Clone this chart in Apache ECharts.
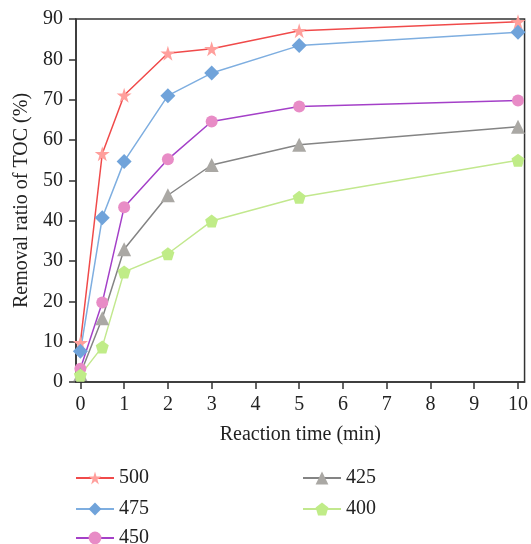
<!DOCTYPE html>
<html>
<head>
<meta charset="utf-8">
<script src="https://cdn.jsdelivr.net/npm/echarts@6/dist/echarts.min.js"></script>
<style>html,body{margin:0;padding:0;background:#fff}#mybox{width:531px;height:544px}</style>
</head>
<body>
<div id="mybox"></div>
<script>
// 数据
var times = [0, 0.5, 1, 2, 3, 5, 10];
var xTicks = [0, 1, 2, 3, 4, 5, 6, 7, 8, 9, 10];
var s500 = [9.7, 56.6, 71.1, 81.5, 82.6, 87.1, 89.3];
var s475 = [7.6, 40.7, 54.7, 71.0, 76.6, 83.4, 86.7];
var s450 = [3.3, 19.7, 43.3, 55.2, 64.6, 68.3, 69.8];
var s425 = [2.0, 15.8, 32.9, 46.3, 53.8, 58.8, 63.3];
var s400 = [1.7, 8.7, 27.3, 31.8, 39.9, 45.8, 55.0];
var legendNames = ['500', '475', '450', '425', '400'];

var font = '"Liberation Serif", "DejaVu Serif", serif';
var fs = 20;
var pentagon = 'path://M50,0 L100,38 L81,100 L19,100 L0,38 Z';
var star = 'path://M50,0 L61,35 L98,35 L68,57 L79,92 L50,70 L21,92 L32,57 L2,35 L39,35 Z';

function pairs(arr) {
    return times.map(function (t, i) { return [t, arr[i]]; });
}
function mkSeries(name, data, lineColor, markColor, symbol, size) {
    return {
        name: name,
        type: 'line',
        data: pairs(data),
        symbol: symbol,
        symbolSize: size,
        lineStyle: { color: lineColor, width: 1.5 },
        itemStyle: { color: markColor },
        emphasis: { disabled: true },
        animation: false
    };
}
// 图例位置 (每项单独一个)
var legendPos = [[75, 468], [75, 499], [75, 528], [302, 468], [302, 499]];
var legends = legendNames.map(function (n, i) {
    return {
        data: [n],
        left: legendPos[i][0], top: legendPos[i][1],
        padding: 0,
        itemWidth: 38, itemHeight: 16, itemGap: 6,
        textStyle: { fontFamily: font, fontSize: fs, color: '#222' }
    };
});

var mycharts = echarts.init(document.getElementById('mybox'));
var option = {
    backgroundColor: '#fff',
    textStyle: { fontFamily: font, color: '#222' },
    grid: {
        left: 76, right: 4, top: 19, bottom: 162,
        show: true, borderColor: '#333', borderWidth: 1.5
    },
    legend: legends,
    xAxis: {
        type: 'value',
        min: -0.1, max: 10.15,
        name: 'Reaction time (min)',
        nameLocation: 'middle',
        nameGap: 43,
        nameTextStyle: { fontFamily: font, fontSize: fs, color: '#222' },
        axisLine: { lineStyle: { color: '#333', width: 1.5 } },
        axisTick: { customValues: xTicks, length: 7, lineStyle: { color: '#333', width: 1.5 } },
        axisLabel: { customValues: xTicks, fontFamily: font, fontSize: fs, color: '#222', margin: 13 },
        splitLine: { show: false }
    },
    yAxis: {
        type: 'value',
        min: 0, max: 90, interval: 10,
        name: 'Removal ratio of TOC (%)',
        nameLocation: 'middle',
        nameGap: 44,
        nameTextStyle: { fontFamily: font, fontSize: fs, color: '#222' },
        axisLine: { show: true, onZero: false, lineStyle: { color: '#333', width: 1.5 } },
        axisTick: { show: true, length: 7, lineStyle: { color: '#333', width: 1.5 } },
        axisLabel: { fontFamily: font, fontSize: fs, color: '#222', margin: 13 },
        splitLine: { show: false }
    },
    series: [
        mkSeries('500', s500, '#f04a4a', '#ff9f9c', star, 15),
        mkSeries('475', s475, '#7eaee0', '#70a3da', 'diamond', 15),
        mkSeries('450', s450, '#a440c8', '#e88cc6', 'circle', 12),
        mkSeries('425', s425, '#848484', '#aaa8a4', 'triangle', 14),
        mkSeries('400', s400, '#c2e88e', '#c0ec88', pentagon, 13)
    ]
};
mycharts.setOption(option);
</script>
</body>
</html>
